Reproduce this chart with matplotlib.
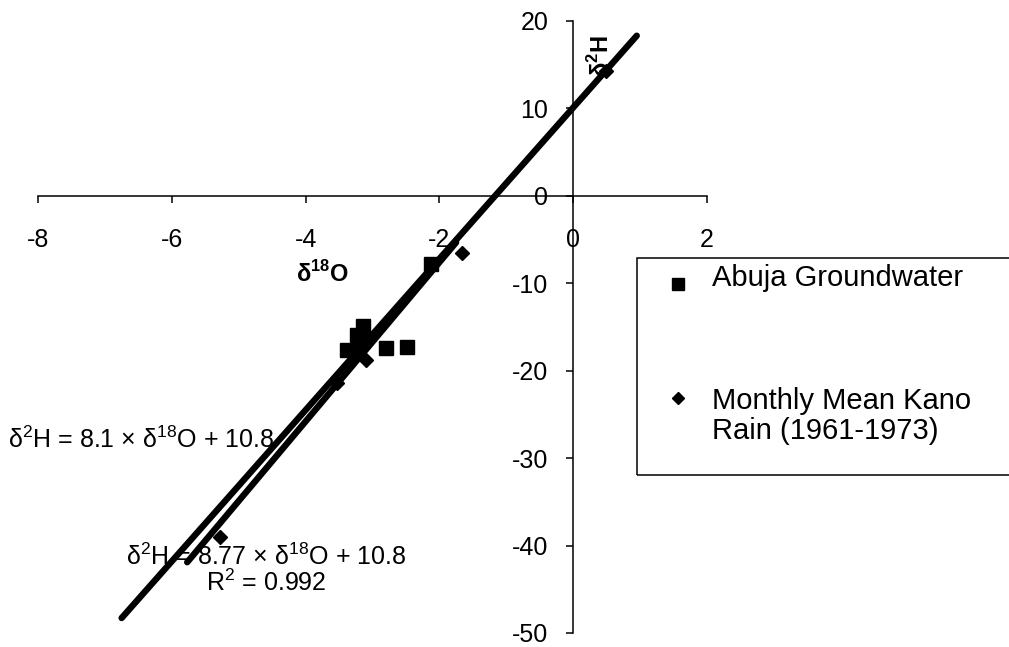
import matplotlib
matplotlib.use("Agg")
import matplotlib.pyplot as plt
from matplotlib.patches import Rectangle
from matplotlib.lines import Line2D
import numpy as np

plt.rcParams["font.family"] = ["Liberation Sans", "DejaVu Sans"]
plt.rcParams["mathtext.fontset"] = "custom"
plt.rcParams["mathtext.rm"] = "Liberation Sans"
plt.rcParams["mathtext.bf"] = "Liberation Sans:bold"
plt.rcParams["axes.unicode_minus"] = False

# Abuja groundwater samples (delta 18O, delta 2H)
gw_o18 = [-3.14, -3.23, -3.38, -3.15, -2.80, -2.48, -2.12]
gw_h2 = [-14.9, -15.9, -17.6, -16.6, -17.4, -17.3, -7.8]

# Monthly mean Kano rain 1961-1973
rain_o18 = [0.49, -1.66, -3.09, -3.53, -5.28]
rain_h2 = [14.3, -6.5, -18.8, -21.4, -39.0]

# fitted lines: slope, intercept, x range
line_slopes = [8.65, 9.1]
line_intercepts = [10.1, 10.6]
line_xmin = [-6.75, -5.77]
line_xmax = [0.95, -1.75]

xticks = [-8, -6, -4, -2, 0, 2]
yticks = [-50, -40, -30, -20, -10, 0, 10, 20]

W, H = 1009, 647
fig = plt.figure(figsize=(W / 100, H / 100), dpi=100)
ax = fig.add_axes([38 / W, 1 - 633 / H, (707 - 38) / W, (633 - 21) / H])
ax.set_xlim(-8, 2)
ax.set_ylim(-50, 20)

for s, b, x0, x1 in zip(line_slopes, line_intercepts, line_xmin, line_xmax):
    xs = np.array([x0, x1])
    ax.plot(xs, s * xs + b, color="black", lw=4.6, solid_capstyle="round",
            zorder=3)

ax.plot(gw_o18, gw_h2, "s", color="black", ms=10, zorder=4)
ax.plot(rain_o18, rain_h2, "D", color="black", ms=7, zorder=4)

# axes crossing at the origin
ax.spines["left"].set_position(("data", 0))
ax.spines["bottom"].set_position(("data", 0))
ax.spines["right"].set_visible(False)
ax.spines["top"].set_visible(False)
for sp in ("left", "bottom"):
    ax.spines[sp].set_linewidth(1.1)
ax.set_xticks(xticks)
ax.set_yticks(yticks)
ax.tick_params(axis="both", direction="out", length=5, width=1.1,
               labelsize=18)
ax.tick_params(axis="x", pad=18)
ax.tick_params(axis="y", pad=13)

ax.text(0.42, 16.0, r"δ$^{\mathbf{2}}$H", rotation=90, fontsize=17,
        fontweight="bold", ha="center", va="center")
ax.text(-3.75, -8.9, r"δ$^{\mathbf{18}}$O", fontsize=17,
        fontweight="bold", ha="center", va="center")

ax.text(-8.45, -27.9, r"δ$^{2}$H = 8.1 × δ$^{18}$O + 10.8", fontsize=18,
        ha="left", va="center")
ax.text(-4.59, -42.8, "δ$^{2}$H = 8.77 × δ$^{18}$O + 10.8\nR$^{2}$ = 0.992",
        fontsize=18, ha="center", va="center", multialignment="center",
        linespacing=1.0)

# legend box (runs off the right edge like the original)
fig.add_artist(Rectangle((637 / W, 1 - 475 / H), 0.6, 217 / H,
                         transform=fig.transFigure, fill=False,
                         edgecolor="black", lw=1.1, clip_on=False))
fig.add_artist(Line2D([678 / W], [1 - 284 / H], marker="s", color="black",
                      ms=9, transform=fig.transFigure))
fig.add_artist(Line2D([678 / W], [1 - 398 / H], marker="D", color="black",
                      ms=6.5, transform=fig.transFigure))
fig.text(712 / W, 1 - 278 / H, "Abuja Groundwater", fontsize=21,
         ha="left", va="center")
fig.text(712 / W, 1 - 416 / H, "Monthly Mean Kano\nRain (1961-1973)",
         fontsize=21, ha="left", va="center", linespacing=1.05)

fig.savefig("out.png", dpi=100)
